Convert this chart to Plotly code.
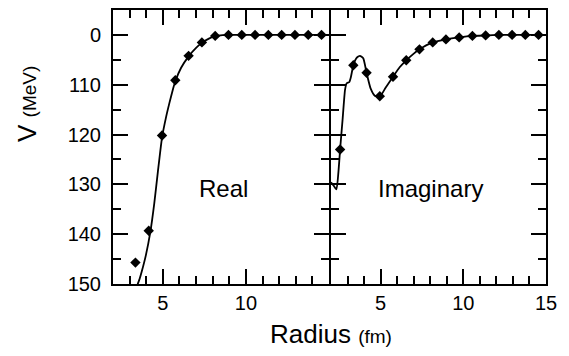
import plotly.graph_objects as go
from plotly.subplots import make_subplots

# ---- data ----
real_pts_x = [3.35, 4.15, 4.95, 5.75, 6.55, 7.35, 8.15, 8.95, 9.75, 10.55, 11.35, 12.15, 12.95, 13.75, 14.55]
real_pts_y = [-45.7, -39.3, -20.2, -9.1, -4.2, -1.5, -0.2, 0, 0, 0, 0, 0, 0, 0, 0]

real_curve_x = [3.4, 3.49, 3.6, 3.73, 3.98, 4.24, 4.48, 4.7, 4.95, 5.2, 5.4, 5.6, 5.75, 6.1, 6.55, 7.0, 7.35, 7.8, 8.15, 8.6, 9.0, 15.0]
real_curve_y = [-52, -50.0, -49.0, -47.5, -44.2, -39.7, -33.9, -27.5, -20.6, -16.4, -13.6, -11.0, -9.3, -6.6, -4.3, -2.6, -1.6, -0.7, -0.25, -0.05, 0, 0]

imag_pts_x = [2.55, 3.35, 4.15, 4.95, 5.75, 6.55, 7.35, 8.15, 8.95, 9.75, 10.55, 11.35, 12.15, 12.95, 13.75, 14.55]
imag_pts_y = [-23.0, -6.1, -7.6, -12.3, -8.4, -5.1, -2.9, -1.5, -0.9, -0.5, -0.2, -0.1, 0, 0, 0, 0]

imag_curve_x = [2.0, 2.15, 2.33, 2.45, 2.55, 2.7, 2.85, 2.95, 3.1, 3.2, 3.35, 3.55, 3.75, 3.95, 4.15, 4.4, 4.65, 4.95, 5.3, 5.75, 6.15, 6.55, 6.95, 7.35, 7.75, 8.15, 8.95, 9.75, 10.55, 11.35, 12.15, 15.0]
imag_curve_y = [-29.6, -30.2, -31.0, -27.5, -23.0, -17.0, -11.0, -9.7, -9.5, -8.5, -6.1, -4.6, -4.2, -4.7, -7.6, -10.8, -12.2, -12.4, -10.6, -8.4, -6.5, -5.1, -3.9, -2.9, -2.1, -1.5, -0.9, -0.5, -0.2, -0.1, 0, 0]

y_tickvals = [0, -10, -20, -30, -40, -50]
y_ticktext = ["0", "110", "120", "130", "140", "150"]
x_tickvals_left = [5, 10]
x_tickvals_right = [5, 10, 15]
panel_labels = ["Real", "Imaginary"]

FONT = "Liberation Sans, Arial, Helvetica, sans-serif"
W, H = 569, 356

fig = make_subplots(rows=1, cols=2, horizontal_spacing=0)

line_style = dict(color="black", width=1.8, shape="spline", smoothing=0.5)
mark_style = dict(symbol="diamond", size=8, color="black")

fig.add_trace(go.Scatter(x=real_curve_x, y=real_curve_y, mode="lines", line=line_style,
                         showlegend=False, hoverinfo="skip"), row=1, col=1)
fig.add_trace(go.Scatter(x=real_pts_x, y=real_pts_y, mode="markers", marker=mark_style,
                         showlegend=False, cliponaxis=True), row=1, col=1)
fig.add_trace(go.Scatter(x=imag_curve_x, y=imag_curve_y, mode="lines", line=line_style,
                         showlegend=False, hoverinfo="skip"), row=1, col=2)
fig.add_trace(go.Scatter(x=imag_pts_x, y=imag_pts_y, mode="markers", marker=mark_style,
                         showlegend=False, cliponaxis=True), row=1, col=2)

# pixel-aligned domains so that the shared divider spines coincide
left0, mid_l, mid_r, right1 = 113 / W, 329 / W, 331 / W, 546 / W
ybot, ytop = 1 - 284 / H, 1 - 10 / H

common_x = dict(range=[2, 15], showgrid=False, zeroline=False, showline=True, linecolor="black",
                linewidth=2, mirror="ticks", ticks="inside", ticklen=15, tickwidth=1.8,
                tickcolor="black", tickmode="array",
                minor=dict(dtick=1, tick0=0, ticks="inside", ticklen=8, tickwidth=1.5, tickcolor="black"),
                tickfont=dict(family=FONT, size=20, color="black"), automargin=False)
common_y = dict(range=[-50, 5], showgrid=False, zeroline=False, showline=True, linecolor="black",
                linewidth=2, mirror="ticks", ticks="inside", ticklen=15, tickwidth=1.8,
                tickcolor="black", tickmode="array", tickvals=y_tickvals, ticktext=y_ticktext,
                minor=dict(dtick=5, tick0=0, ticks="inside", ticklen=8, tickwidth=1.5, tickcolor="black"),
                tickfont=dict(family=FONT, size=20, color="black"), automargin=False)

fig.update_xaxes(common_x, row=1, col=1)
fig.update_xaxes(common_x, row=1, col=2)
fig.update_xaxes(tickvals=x_tickvals_left, domain=[left0, mid_l], row=1, col=1)
fig.update_xaxes(tickvals=x_tickvals_right, domain=[mid_r, right1], row=1, col=2)
fig.update_yaxes(common_y, row=1, col=1)
fig.update_yaxes(common_y, row=1, col=2)
fig.update_yaxes(domain=[ybot, ytop], ticklabelstandoff=6, row=1, col=1)
fig.update_yaxes(domain=[ybot, ytop], showticklabels=False, matches="y", row=1, col=2)

fig.add_annotation(x=8.65, y=-30.8, xref="x", yref="y", text=panel_labels[0], showarrow=False,
                   font=dict(family=FONT, size=24, color="black"))
fig.add_annotation(x=8.0, y=-30.8, xref="x2", yref="y2", text=panel_labels[1], showarrow=False,
                   font=dict(family=FONT, size=24, color="black"))

fig.add_annotation(x=331 / W, y=1 - 334 / H, xref="paper", yref="paper", xanchor="center", yanchor="middle",
                   text="Radius <span style='font-size:19px'>(fm)</span>", showarrow=False,
                   font=dict(family=FONT, size=26, color="black"))
fig.add_annotation(x=27 / W, y=1 - 104 / H, xref="paper", yref="paper", xanchor="center", yanchor="middle",
                   text="V <span style='font-size:19px'>(MeV)</span>", textangle=-90, showarrow=False,
                   font=dict(family=FONT, size=26, color="black"))

fig.update_layout(width=W, height=H, margin=dict(l=0, r=0, t=0, b=0),
                  paper_bgcolor="white", plot_bgcolor="white", autosize=False)

fig.write_html("out.html")
